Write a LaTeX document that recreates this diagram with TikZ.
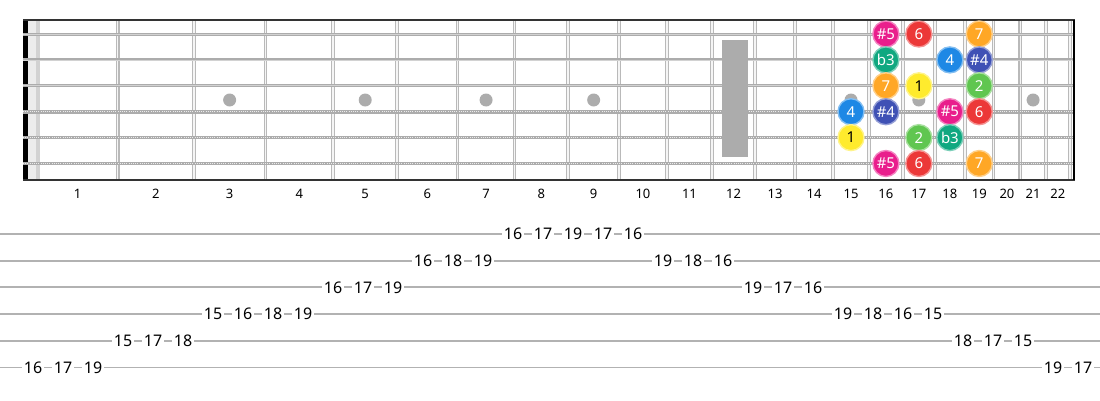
\documentclass[tikz,border=0pt]{standalone}
\usepackage{fontspec}
\setmainfont{Noto Sans}
\usepackage{tikz}
\usetikzlibrary{calc}

\definecolor{sharpfive}{RGB}{233,30,140}
\definecolor{six}{RGB}{236,56,56}
\definecolor{seven}{RGB}{255,167,38}
\definecolor{flatthree}{RGB}{16,168,128}
\definecolor{four}{RGB}{30,136,229}
\definecolor{sharpfour}{RGB}{63,81,181}
\definecolor{one}{RGB}{255,235,45}
\definecolor{two}{RGB}{96,198,80}

% fret n at x0 + L(1-2^(-n/12)), centre of fret n between n-1 and n
\newcommand{\fretx}[1]{37.5+1435*(1-2^(-(#1)/12))}
\newcommand{\midx}[1]{37.5+717.5*(2-2^(-(#1)/12)-2^(-(#1-1)/12))}
\newcommand{\stry}[1]{34+25.9*(#1-1)}

\tikzset{
  fretwire/.style={draw=gray!55, double=gray!8, line width=1.1pt, double distance=1.6pt},
  plainstr/.style={draw=gray!65, double=gray!35, line width=1.1pt, double distance=0.8pt},
  woundstr/.style={draw=gray!65, line width=3.6pt},
  winding/.style={draw=gray!15, line width=1.2pt, dash pattern=on 0.9pt off 1.3pt},
  inlay/.style={circle, fill=gray!65, minimum size=13pt, inner sep=0pt},
  note/.style={circle, fill=#1, draw=#1!55!white, line width=1.4pt, minimum size=26pt,
    inner sep=0pt, text=white, font=\fontsize{15}{15}\selectfont},
  tabnum/.style={fill=white, inner sep=1.5pt, font=\fontsize{16}{16}\selectfont},
  fretnum/.style={font=\fontsize{13}{13}\selectfont},
  tabline/.style={draw=gray!60, line width=1.7pt},
}

\begin{document}
\begin{tikzpicture}[x=1pt,y=-1pt]
  \useasboundingbox (0,0) rectangle (1100,400);

  % nut
  \fill[gray!15] (28,20) rectangle (40,180);
  \fill[gray!35] (36,20) rectangle (40,180);
  \fill[black] (23,20) rectangle (28,180);

  % frets
  \foreach \n in {1,...,22}
    \draw[fretwire] ({\fretx{\n}},20) -- ({\fretx{\n}},180);

  % inlays
  \foreach \n in {3,5,7,9,15,17,21}
    \node[inlay] (dot\n) at ({\midx{\n}},100) {};

  % strings
  \foreach \s in {1,2,3}{
    \coordinate (sL\s) at (23,{\stry{\s}});
    \coordinate (sR\s) at (1074,{\stry{\s}});
    \draw[plainstr] (sL\s) -- (sR\s);
  }
  \foreach \s in {4,5,6}{
    \coordinate (sL\s) at (23,{\stry{\s}});
    \coordinate (sR\s) at (1074,{\stry{\s}});
    \draw[woundstr] (sL\s) -- (sR\s);
    \draw[winding] (sL\s) -- (sR\s);
  }
  \fill[gray!65] (722,40) rectangle (748,157);

  % border
  \draw[black!80, line width=2pt] (23,20) -- (1075,20);
  \draw[black!80, line width=2pt] (23,180) -- (1075,180);
  \draw[black, line width=1.6pt] (1074,20) -- (1074,180);

  % fret numbers
  \foreach \n in {1,...,22}
    \node[fretnum] (lab\n) at ({\midx{\n}},194) {\n};

  % scale notes: string/fret/colour/degree
  \foreach \s/\f/\col/\deg in {
      1/16/sharpfive/{\#5}, 1/17/six/6, 1/19/seven/7,
      2/16/flatthree/b3, 2/18/four/4, 2/19/sharpfour/{\#4},
      3/16/seven/7, 3/19/two/2,
      4/15/four/4, 4/16/sharpfour/{\#4}, 4/18/sharpfive/{\#5}, 4/19/six/6,
      5/17/two/2, 5/18/flatthree/b3,
      6/16/sharpfive/{\#5}, 6/17/six/6, 6/19/seven/7}
    \node[note=\col] (n\s-\f) at ({\midx{\f}},{\stry{\s}}) {\deg};
  \node[note=one, text=black] (n3-17) at ({\midx{17}},{\stry{3}}) {1};
  \node[note=one, text=black] (n5-15) at ({\midx{15}},{\stry{5}}) {1};

  % tab
  \foreach \l in {1,...,6}{
    \coordinate (tL\l) at (0,{234+26.67*(\l-1)});
    \coordinate (tR\l) at (1100,{234+26.67*(\l-1)});
    \draw[tabline] (tL\l) -- (tR\l);
  }
  \foreach \l/\f [count=\i from 0] in {
      6/16,6/17,6/19,5/15,5/17,5/18,4/15,4/16,4/18,4/19,3/16,3/17,
      3/19,2/16,2/18,2/19,1/16,1/17,1/19,1/17,1/16,2/19,2/18,2/16,
      3/19,3/17,3/16,4/19,4/18,4/16,4/15,5/18,5/17,5/15,6/19,6/17}
    \node[tabnum] (t\i) at ({33+30*\i},{234+26.67*(\l-1)}) {\f};
\end{tikzpicture}
\end{document}
